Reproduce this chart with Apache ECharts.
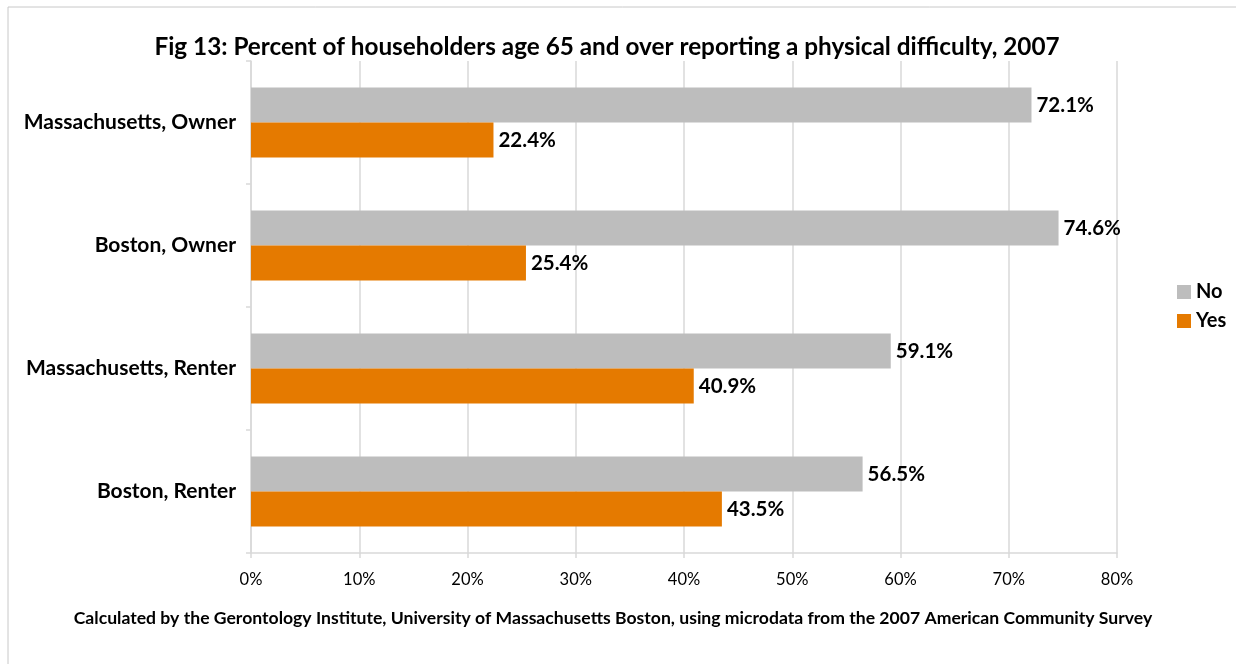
<!DOCTYPE html>
<html>
<head>
<meta charset="utf-8">
<script src="https://cdn.jsdelivr.net/npm/echarts@6/dist/echarts.min.js"></script>
<style>
  html, body { margin: 0; padding: 0; background: #fff; }
  #chart { width: 1236px; height: 664px; }
</style>
</head>
<body>
<div id="chart"></div>
<script>
// data
const categories = ["Massachusetts, Owner", "Boston, Owner", "Massachusetts, Renter", "Boston, Renter"];
const noValues = [72.1, 74.6, 59.1, 56.5];
const yesValues = [22.4, 25.4, 40.9, 43.5];
const xTicks = [0, 10, 20, 30, 40, 50, 60, 70, 80];

const font = "Lato";
const chart = echarts.init(document.getElementById("chart"));

const labelStyle = {
  show: true,
  position: "right",
  distance: 5,
  formatter: p => p.value.toFixed(1) + "%",
  color: "#000",
  fontFamily: font,
  fontWeight: "bold",
  fontSize: 20.5
};

chart.setOption({
  animation: false,
  title: {
    text: "Fig 13: Percent of householders age 65 and over reporting a physical difficulty, 2007",
    left: 602,
    textAlign: "center",
    top: 30,
    textStyle: { fontFamily: font, fontWeight: "bold", fontSize: 24.3, color: "#000" }
  },
  legend: {
    orient: "vertical",
    left: 1172,
    top: 277,
    icon: "rect",
    itemWidth: 14,
    itemHeight: 14,
    itemGap: 9,
    data: ["No", "Yes"],
    textStyle: { fontFamily: font, fontWeight: "bold", fontSize: 20, color: "#000" }
  },
  grid: { left: 251, right: 119, top: 61, bottom: 111 },
  xAxis: {
    type: "value",
    min: xTicks[0],
    max: xTicks[xTicks.length - 1],
    interval: 10,
    axisLine: { show: true, lineStyle: { color: "#d9d9d9", width: 1.5 } },
    axisTick: { show: true, length: 5, lineStyle: { color: "#d9d9d9", width: 1.5 } },
    splitLine: { show: true, lineStyle: { color: "#d9d9d9", width: 1.5 } },
    axisLabel: {
      margin: 18,
      formatter: v => v + "%",
      fontFamily: font,
      fontSize: 16.5,
      color: "#000"
    }
  },
  yAxis: {
    type: "category",
    inverse: true,
    data: categories,
    axisLine: { show: true, lineStyle: { color: "#d9d9d9", width: 1.5 } },
    axisTick: { show: true, length: 5, lineStyle: { color: "#d9d9d9", width: 1.5 } },
    axisLabel: {
      margin: 15,
      fontFamily: font,
      fontWeight: "bold",
      fontSize: 21,
      color: "#000"
    }
  },
  series: [
    {
      name: "No",
      type: "bar",
      data: noValues,
      barWidth: 35,
      barGap: "0%",
      itemStyle: { color: "#bdbdbd" },
      label: labelStyle
    },
    {
      name: "Yes",
      type: "bar",
      data: yesValues,
      barWidth: 35,
      barGap: "0%",
      itemStyle: { color: "#e57a00" },
      label: labelStyle
    }
  ],
  graphic: [
    {
      type: "rect",
      shape: { x: 8, y: 7, width: 1300, height: 700 },
      style: { fill: "none", stroke: "#c8c8c8", lineWidth: 1 },
      silent: true
    },
    {
      type: "text",
      x: 613,
      y: 618,
      silent: true,
      style: {
        text: "Calculated by the Gerontology Institute, University of Massachusetts Boston, using microdata from the 2007 American Community Survey",
        fontFamily: font,
        fontWeight: "bold",
        fontSize: 17.6,
        fill: "#000",
        textAlign: "center",
        textVerticalAlign: "middle"
      }
    }
  ]
});
</script>
</body>
</html>
